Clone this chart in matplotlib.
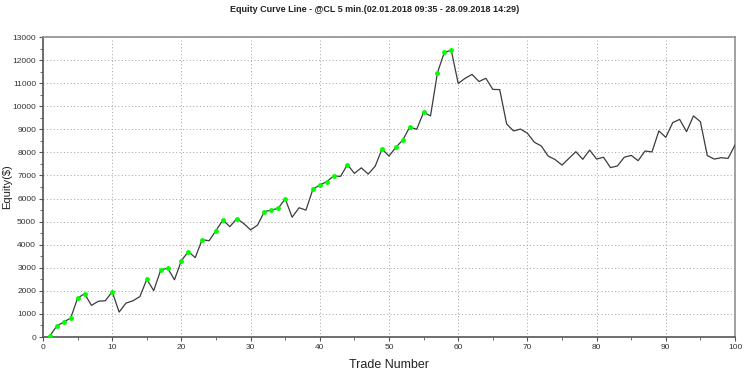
import matplotlib
matplotlib.use("Agg")
import matplotlib.pyplot as plt
from matplotlib.ticker import MultipleLocator
import numpy as np

# dati: numero trade e equity
trade = list(range(1, 101))
equity = [50, 480, 650, 820, 1680, 1880, 1370, 1550, 1570, 1960,
          1080, 1470, 1570, 1750, 2500, 2010, 2890, 2990, 2480, 3310,
          3700, 3440, 4220, 4170, 4610, 5070, 4780, 5130, 4920, 4640,
          4850, 5430, 5500, 5580, 5990, 5190, 5600, 5500, 6400, 6590,
          6730, 6980, 6960, 7470, 7090, 7330, 7060, 7400, 8150, 7840,
          8220, 8540, 9100, 9000, 9740, 9580, 11450, 12340, 12420, 10990,
          11210, 11380, 11070, 11210, 10730, 10720, 9230, 8930, 9010, 8830,
          8440, 8280, 7840, 7690, 7450, 7740, 8030, 7700, 8100, 7710,
          7790, 7340, 7410, 7790, 7870, 7640, 8060, 8020, 8930, 8650,
          9290, 9430, 8900, 9580, 9330, 7860, 7710, 7770, 7740, 8320]

titolo = "Equity Curve Line - @CL 5 min.(02.01.2018 09:35 - 28.09.2018 14:29)"

plt.rcParams['font.family'] = ['Liberation Sans', 'DejaVu Sans']

fig = plt.figure(figsize=(7.5, 3.8), dpi=100)
ax = fig.add_axes([43 / 750, 1 - 337 / 380, (735 - 43) / 750, 300 / 380])

eq = np.array(equity)
ax.plot(trade, eq, color='#3c3c3c', linewidth=0.9, zorder=3)

# punti verdi sui nuovi massimi
nuovi_max = [i for i in range(len(eq)) if eq[i] >= eq[:i + 1].max()]
ax.plot(np.array(trade)[nuovi_max], eq[nuovi_max], linestyle='none', marker='o',
        markersize=2.5, color='#00ff00', zorder=4)

ax.set_xlim(0, 100)
ax.set_ylim(0, 13000)
ax.xaxis.set_major_locator(MultipleLocator(10))
ax.xaxis.set_minor_locator(MultipleLocator(5))
ax.yaxis.set_major_locator(MultipleLocator(1000))
ax.yaxis.set_minor_locator(MultipleLocator(500))
ax.grid(True, which='major', linestyle=(0, (1, 2.5)), color='#a0a0a0', linewidth=0.7)

for lato in ['left', 'bottom']:
    ax.spines[lato].set_color('#555555')
    ax.spines[lato].set_linewidth(1.2)
for lato in ['top', 'right']:
    ax.spines[lato].set_color('#909090')
    ax.spines[lato].set_linewidth(1.2)

ax.tick_params(which='both', direction='out', color='#555555', labelsize=6,
               labelcolor='#333333', pad=2)
ax.tick_params(which='major', length=3)
ax.tick_params(which='minor', length=2)

ax.set_xlabel("Trade Number", fontsize=9, color='#222222', labelpad=6)
ax.set_ylabel("Equity($)", fontsize=8, color='#222222')
ax.yaxis.set_label_coords(-31 / 692, 0.5)
fig.text(0.5, 1 - 10 / 380, titolo, ha='center', va='center', fontsize=6.5,
         fontweight='bold', color='#222222')

fig.savefig("out.png", dpi=100)
